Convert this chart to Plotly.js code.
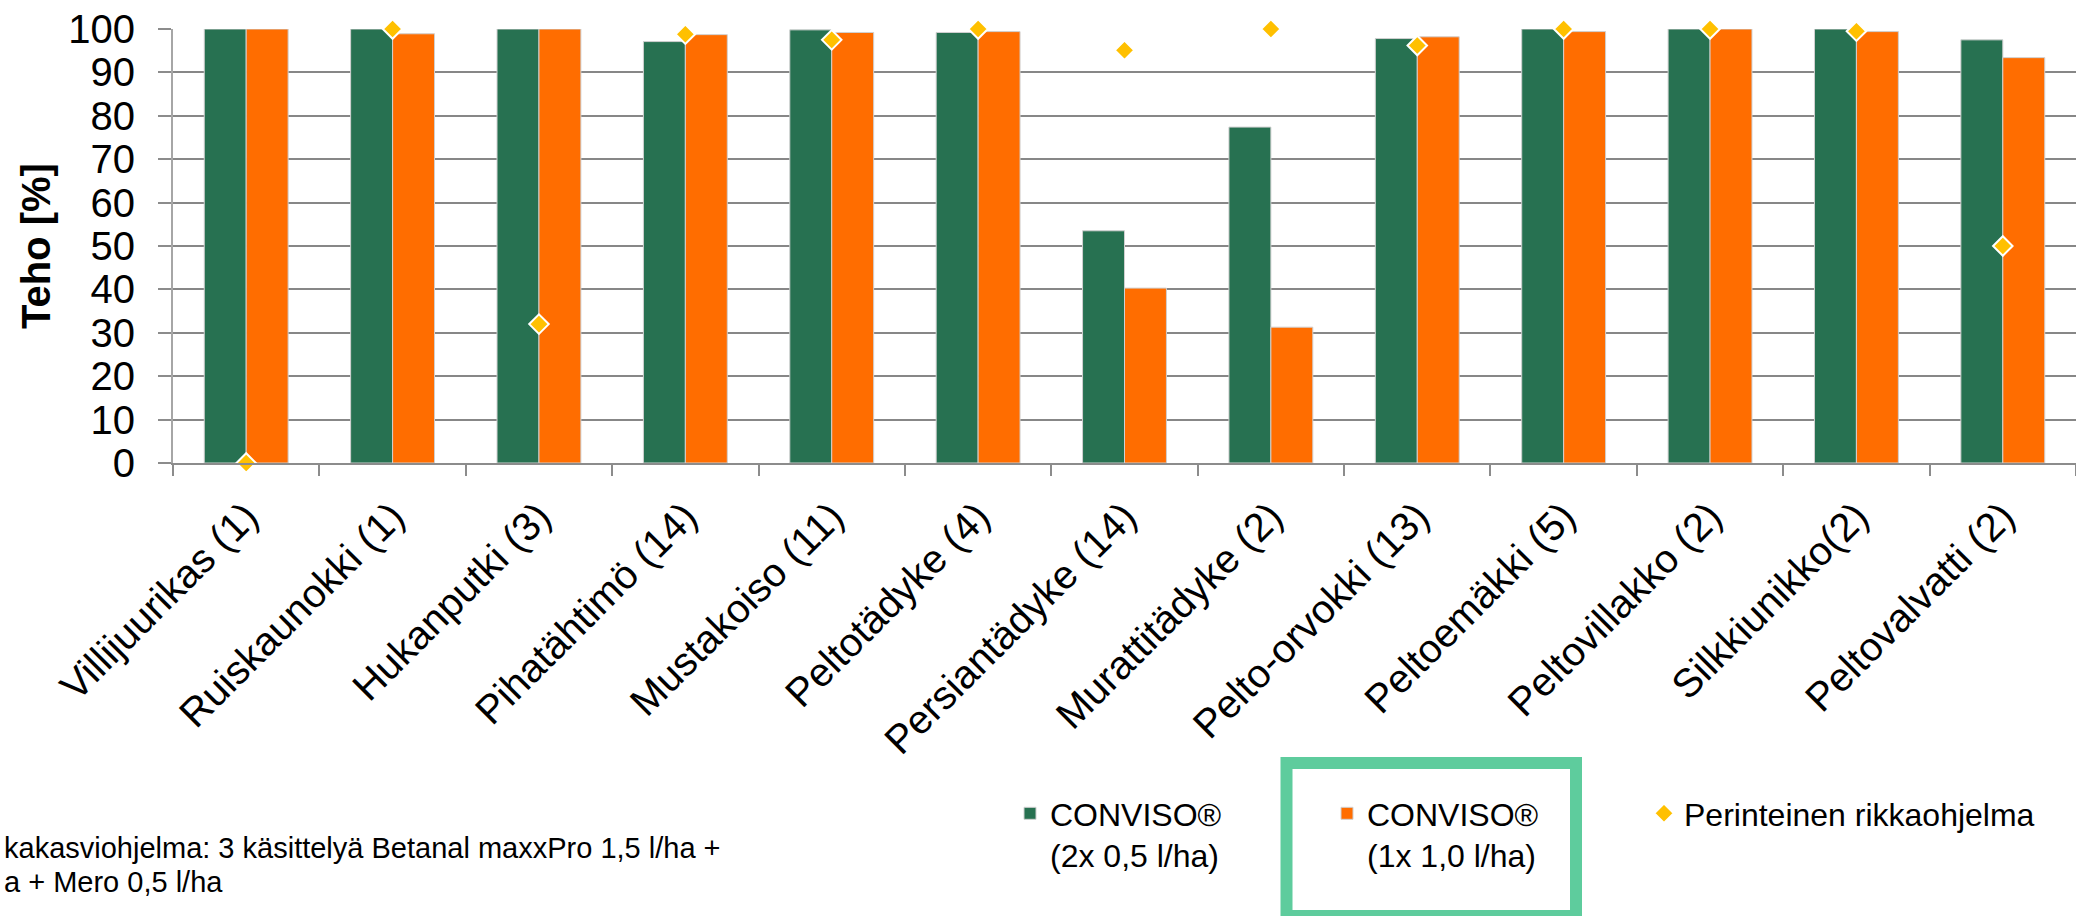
<!DOCTYPE html>
<html>
<head>
<meta charset="utf-8">
<script src="https://cdn.plot.ly/plotly-3.0.1.min.js"></script>
<style>html,body{margin:0;padding:0;background:#fff;}#chart{width:2076px;height:916px;}</style>
</head>
<body>
<div id="chart"></div>
<script>
const categories = ["Villijuurikas (1)", "Ruiskaunokki (1)", "Hukanputki (3)", "Pihatähtimö (14)", "Mustakoiso (11)", "Peltotädyke (4)", "Persiantädyke (14)", "Murattitädyke (2)", "Pelto-orvokki (13)", "Peltoemäkki (5)", "Peltovillakko (2)", "Silkkiunikko(2)", "Peltovalvatti (2)"];
const conviso2x = [100, 100, 100, 97.1, 99.8, 99.2, 53.5, 77.4, 97.8, 100, 100, 100, 97.5];
const conviso1x = [100, 98.9, 100, 98.7, 99.2, 99.4, 40.3, 31.3, 98.2, 99.4, 100, 99.4, 93.4];
const perinteinen = [0, 100, 32, 98.8, 97.5, 100, 95.1, 100, 96.2, 100, 100, 99.5, 50];
const seriesNames = ["CONVISO®<br>(2x 0,5 l/ha)", "CONVISO®<br>(1x 1,0 l/ha)", "Perinteinen rikkaohjelma"];
const yTitle = "Teho [%]";
const footnoteLines = ["kakasviohjelma: 3 käsittelyä Betanal maxxPro 1,5 l/ha +", "a + Mero 0,5 l/ha"];

const FONT = "Liberation Sans, Arial, sans-serif";
const W = 2076, H = 916;
const M = {l: 173, r: 0, t: 29, b: 453, autoexpand: false};
const plotW = W - M.l - M.r, plotH = H - M.t - M.b;
const px = x => (x - M.l) / plotW;
const py = y => (H - M.b - y) / plotH;

const traces = [
  {type: "bar", name: seriesNames[0], x: categories, y: conviso2x, legend: "legend",
   marker: {color: "#277151", line: {color: "#d0d0d0", width: 1}}},
  {type: "bar", name: seriesNames[1], x: categories, y: conviso1x, legend: "legend2",
   marker: {color: "#FF6D00", line: {color: "#d0d0d0", width: 1}}},
  {type: "scatter", mode: "markers", name: seriesNames[2], x: categories, y: perinteinen, legend: "legend3",
   marker: {symbol: "diamond", size: 15, color: "#FFC000", line: {color: "#ffffff", width: 2}},
   cliponaxis: false}
];

function legendAt(markerX) {
  return {
    orientation: "v", xref: "container", yref: "container",
    x: (markerX - 19) / W, y: (H - 786) / H, xanchor: "left", yanchor: "top",
    font: {family: FONT, size: 32, color: "#000000"},
    valign: "top", bgcolor: "rgba(0,0,0,0)", borderwidth: 0
  };
}

const layout = {
  width: W, height: H,
  margin: M,
  paper_bgcolor: "#ffffff", plot_bgcolor: "#ffffff",
  font: {family: FONT, color: "#000000"},
  barmode: "group", bargap: 0.427, bargroupgap: 0,
  showlegend: true,
  legend: legendAt(1029),
  legend2: legendAt(1346),
  legend3: legendAt(1663),
  xaxis: {
    type: "category", range: [-0.5, categories.length - 0.5], autorange: false,
    tickangle: -45, tickson: "boundaries", ticklabelstandoff: 12,
    ticks: "outside", ticklen: 11, tickwidth: 2, tickcolor: "#8c8c8c",
    showline: true, linecolor: "#8c8c8c", linewidth: 2, automargin: false,
    showgrid: false, tickfont: {family: FONT, size: 40, color: "#000000"},
    fixedrange: true
  },
  yaxis: {
    range: [0, 100], autorange: false, dtick: 10, tick0: 0, automargin: false,
    ticks: "outside", ticklen: 13, tickwidth: 2, tickcolor: "#8c8c8c", ticklabelstandoff: 15,
    showline: true, linecolor: "#a6a6a6", linewidth: 2,
    showgrid: true, gridcolor: "#878787", gridwidth: 2, zeroline: false,
    tickfont: {family: FONT, size: 40, color: "#000000"},
    fixedrange: true
  },
  shapes: [{
    type: "rect", xref: "paper", yref: "paper",
    x0: px(1286.5), x1: px(1576), y0: py(763), y1: py(916),
    line: {color: "#5ECC9D", width: 12}, fillcolor: "rgba(0,0,0,0)", layer: "above"
  }],
  annotations: [
    {xref: "paper", yref: "paper", x: px(36), y: py(246), xanchor: "center", yanchor: "middle",
     textangle: -90, text: "<b>" + yTitle + "</b>", showarrow: false,
     font: {family: FONT, size: 40, color: "#000000"}},
    {xref: "paper", yref: "paper", x: px(2), y: py(847.5), xanchor: "left", yanchor: "middle",
     text: footnoteLines[0], showarrow: false, font: {family: FONT, size: 29, color: "#000000"}},
    {xref: "paper", yref: "paper", x: px(2), y: py(881.5), xanchor: "left", yanchor: "middle",
     text: footnoteLines[1], showarrow: false, font: {family: FONT, size: 29, color: "#000000"}}
  ]
};

Plotly.newPlot("chart", traces, layout, {displayModeBar: false, staticPlot: true});
</script>
</body>
</html>
